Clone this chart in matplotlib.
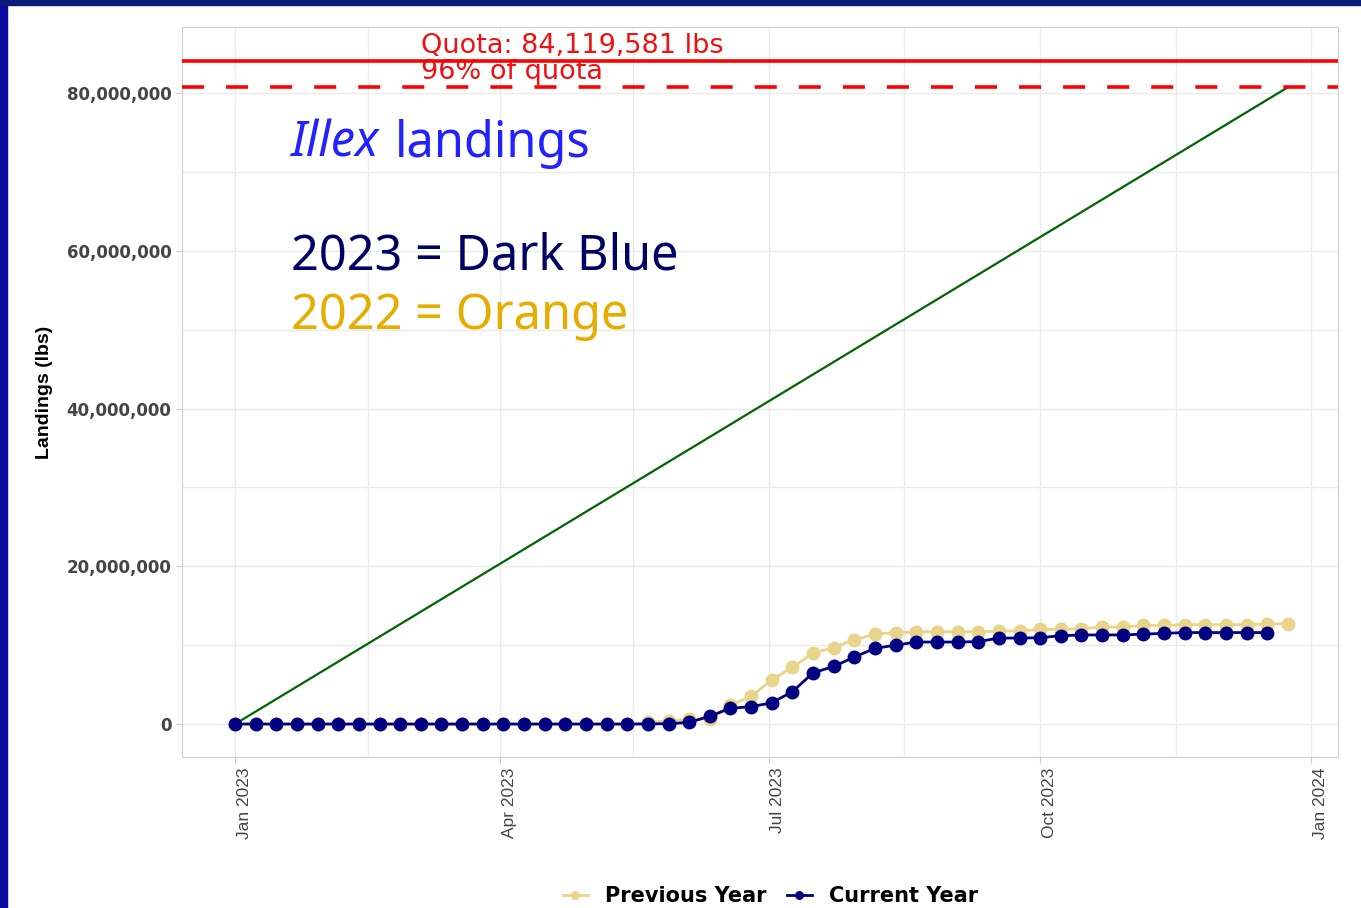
import numpy as np
import pandas as pd
import matplotlib
matplotlib.use("Agg")
import matplotlib.pyplot as plt
import matplotlib.dates as mdates
import matplotlib.transforms as mtransforms
from matplotlib.patches import Rectangle

# weekly cumulative landings, millions of lbs
current_year = [0, 0, 0, 0, 0, 0, 0, 0, 0, 0, 0, 0, 0, 0, 0, 0, 0, 0, 0, 0, 0,
                0.05, 0.2, 1.0, 2.0, 2.2, 2.7, 4.1, 6.5, 7.3, 8.5, 9.6, 10.0,
                10.4, 10.4, 10.4, 10.45, 10.9, 10.9, 10.95, 11.2, 11.3, 11.3,
                11.3, 11.4, 11.5, 11.6, 11.6, 11.6, 11.6, 11.6]
previous_year = [0, 0, 0, 0, 0, 0, 0, 0, 0, 0, 0, 0, 0, 0, 0, 0, 0, 0, 0, 0,
                 0.2, 0.4, 0.6, 0.7, 2.4, 3.5, 5.6, 7.2, 9.0, 9.7, 10.7, 11.4,
                 11.6, 11.7, 11.7, 11.7, 11.7, 11.8, 11.8, 12.0, 12.0, 12.1,
                 12.3, 12.3, 12.5, 12.5, 12.6, 12.6, 12.6, 12.6, 12.7, 12.7]
quota = 84119581
start = "2023-01-01"

weeks_prev = pd.date_range(start, periods=len(previous_year), freq="7D")
weeks_cur = pd.date_range(start, periods=len(current_year), freq="7D")
prev = np.array(previous_year) * 1e6
cur = np.array(current_year) * 1e6

fig = plt.figure(figsize=(13.61, 9.08), dpi=100)
# slide frame
fig.add_artist(Rectangle((0, 0), 0.0055, 1, transform=fig.transFigure, color="#0a0a9e", zorder=10))
fig.add_artist(Rectangle((0, 0.9945), 1, 0.0055, transform=fig.transFigure, color="#0a1a7a", zorder=10))

ax = fig.add_axes([0.1337, 0.1663, 0.8494, 0.804])

ax.plot([weeks_prev[0], weeks_prev[-1]], [0, 0.96 * quota], color="#006400", lw=1.6, zorder=3)
ax.plot(weeks_prev, prev, color="#E8D48A", lw=2.0, marker="o", ms=9, zorder=4, label="Previous Year")
ax.plot(weeks_cur, cur, color="#000080", lw=2.0, marker="o", ms=9, zorder=5, label="Current Year")
ax.axhline(quota, color="#ff0000", lw=2.6, zorder=4)
dl = ax.axhline(0.96 * quota, color="#ff0000", lw=2.6, zorder=4)
dl.set_dashes([6.1, 6.1])

ax.text(pd.Timestamp("2023-03-05"), quota + 1.9e6, "Quota: 84,119,581 lbs", color="#ee1111",
        fontsize=19.5, family="DejaVu Sans", va="center", ha="left")
ax.text(pd.Timestamp("2023-03-05"), quota - 1.45e6, "96% of quota", color="#ee1111",
        fontsize=19.5, family="DejaVu Sans", va="center", ha="left")

big = dict(transform=ax.transAxes, fontsize=35, family="Noto Sans", va="center", ha="left")
ax.text(0.094, 0.84, "Illex", color="#2222ff", fontstyle="italic", **big)
ax.text(0.184, 0.84, "landings", color="#2222ff", **big)
ax.text(0.094, 0.685, "2023 = Dark Blue", color="#000066", **big)
ax.text(0.094, 0.604, "2022 = Orange", color="#e6ac00", **big)

ax.set_xlim(pd.Timestamp("2022-12-14"), pd.Timestamp("2024-01-10"))
ax.set_ylim(-4.18e6, 88.4e6)
ax.xaxis.set_major_locator(mdates.MonthLocator(bymonth=[1, 4, 7, 10]))
ax.xaxis.set_major_formatter(mdates.DateFormatter("%b %Y"))
ax.set_xticks(pd.to_datetime(["2023-02-15", "2023-05-16", "2023-08-16", "2023-11-16"]), minor=True)
ax.set_yticks([0, 20e6, 40e6, 60e6, 80e6])
ax.set_yticks([10e6, 30e6, 50e6, 70e6], minor=True)
ax.yaxis.set_major_formatter(matplotlib.ticker.FuncFormatter(lambda v, p: f"{v:,.0f}"))
ax.grid(which="both", color="#ebebeb", lw=1.0)
ax.set_axisbelow(True)
for s in ax.spines.values():
    s.set_color("#d0d0d0")
ax.tick_params(which="major", color="#cccccc", length=4)
ax.tick_params(which="minor", length=0)
for lab in ax.get_yticklabels():
    lab.set_fontsize(12)
    lab.set_fontweight("bold")
    lab.set_color("#444444")
    lab.set_family("DejaVu Sans")
shift = mtransforms.ScaledTranslation(9 / 100, 0, fig.dpi_scale_trans)
for lab in ax.get_xticklabels():
    lab.set_fontsize(12.5)
    lab.set_rotation(90)
    lab.set_color("#444444")
    lab.set_family("Liberation Sans")
    lab.set_ha("center")
    lab.set_va("top")
    lab.set_transform(lab.get_transform() + shift)
ax.set_ylabel("Landings (lbs)", fontsize=14, family="Liberation Sans", fontweight="bold", labelpad=10)

leg = fig.legend(loc="center", bbox_to_anchor=(0.566, 0.013), ncol=2, frameon=False,
                 prop={"family": "DejaVu Sans", "weight": "bold", "size": 15},
                 handlelength=1.2, markerscale=0.6, columnspacing=1.0, handletextpad=0.8)

fig.savefig("out.png", dpi=100)
